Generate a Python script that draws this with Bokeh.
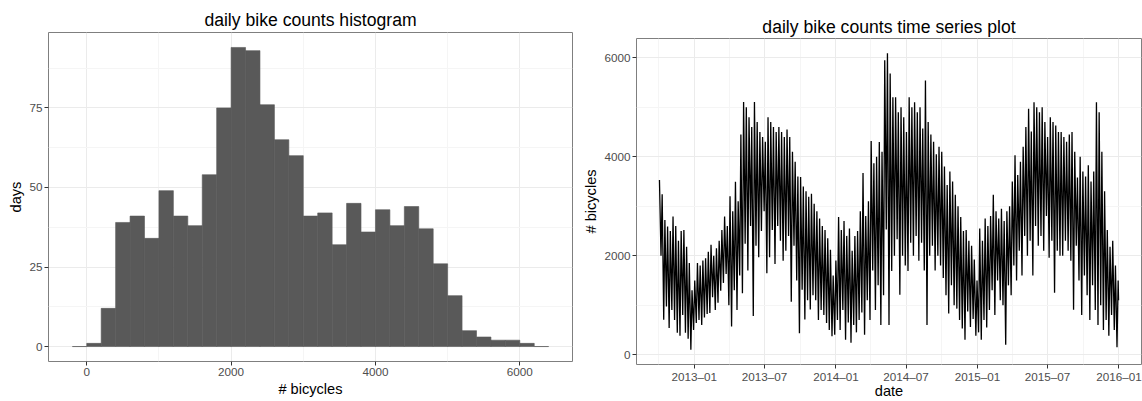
import pandas as pd
from bokeh.plotting import figure
from bokeh.layouts import row
from bokeh.models import FixedTicker, DatetimeTickFormatter, Range1d
from bokeh.embed import file_html
from bokeh.resources import INLINE

# ---- histogram: number of days per 200-bicycle bin ----
bin_width = 200
bin_lefts = list(range(-200, 6400, bin_width))
day_counts = [0, 1, 12, 39, 41, 34, 49, 41, 38, 54,
              75, 94, 93, 76, 65, 60, 41, 42, 32, 45,
              36, 43, 38, 44, 37, 26, 16, 5, 3, 2,
              2, 1, 0]
hist_x_ticks = [0, 2000, 4000, 6000]
hist_y_ticks = [0, 25, 50, 75]

# ---- daily counts: weekday peak (Wednesday) and weekend low (Sunday) per week ----
week_start = "2012-10-03"
series_end = "2015-12-31"

peaks_2012 = [3530, 3240, 2720, 2590, 2500, 2790, 2600, 2300, 2500, 2520, 2180, 1850, 1300]
lows_2012 = [2000, 705, 975, 540, 900, 700, 440, 380, 800, 440, 320, 100, 500]

peaks_2013 = [1500, 1850, 1800, 1900, 1950,
              2080, 2220, 2000, 2150,
              2300, 2520, 2790, 2600,
              3200, 2900, 3495, 3100,
              4450, 5107, 5000, 4800, 4600,
              5107, 4700, 4500, 4400,
              4300, 4800, 4700, 4600, 4500,
              4600, 4500, 4400, 4550,
              4400, 4100, 3900, 3600,
              3590, 3400, 3300, 3190, 3250,
              3050, 2900, 2750, 2600,
              2520, 2350, 2120, 1600]
lows_2013 = [640, 700, 600, 750, 820,
             840, 1160, 900, 1050,
             1290, 1450, 1630, 1000,
             570, 1300, 900, 1600,
             1240, 2240, 1700, 2600, 780,
             2200, 1970, 2500, 2900,
             1645, 1970, 2520, 1830, 2600,
             2300, 1900, 2100, 2400,
             1070, 2200, 1500, 430,
             1310, 710, 1100, 910, 1200,
             1100, 700, 900, 800,
             640, 500, 370, 400]

peaks_2014 = [1900, 2780, 2520, 2700, 2400,
              2550, 2100, 2400, 2500,
              2900, 3670, 2800, 3100,
              4320, 3870, 4000, 4300, 4100,
              5950, 6090, 5680, 5200,
              5200, 4900, 5000, 4800,
              4500, 5200, 5000, 5100, 4900,
              5000, 4570, 5540, 4700,
              4450, 4300, 4050, 4200,
              4100, 3800, 3430, 3700, 3500,
              3230, 3000, 2780, 2500,
              2520, 2300, 2200, 1920, 1500]
lows_2014 = [700, 500, 900, 300, 650,
             240, 600, 450, 700,
             850, 400, 1100, 700,
             1700, 900, 1400, 600, 1200,
             2530, 600, 1690, 2000,
             2330, 1210, 2000, 1800,
             1690, 2260, 2000, 2400, 1900,
             2260, 1700, 600, 2000,
             2200, 1700, 2000, 1800,
             1550, 1200, 830, 1400, 1000,
             930, 700, 530, 300,
             870, 560, 720, 380, 450]

peaks_2015 = [2550, 2300, 2750, 2600,
              2800, 3230, 2900, 2750,
              2950, 2700, 2900, 3000,
              3500, 4030, 3630, 3900, 4200,
              4600, 4970, 4510, 5100,
              5000, 4900, 5000, 4700,
              4400, 4800, 4700, 4630, 4500,
              4500, 4400, 4300, 4450,
              4500, 4100, 3580, 4000, 3700,
              3600, 3830, 3500, 3700,
              5100, 4900, 4100, 3300,
              2520, 2180, 2300, 1800, 1500]
lows_2015 = [300, 700, 550, 900,
             1300, 800, 1500, 1100,
             1000, 200, 1400, 1200,
             1800, 1500, 2100, 1600, 2400,
             2000, 2300, 1600, 2600,
             2200, 2400, 2100, 2800,
             1960, 2300, 1250, 2100, 2000,
             2000, 2300, 2100, 1900,
             907, 2200, 1500, 800, 1600,
             1200, 700, 1400, 900,
             600, 1000, 500, 700,
             380, 800, 500, 150, 1100]

date_x_ticks = ["2013-01-01", "2013-07-01", "2014-01-01", "2014-07-01",
                "2015-01-01", "2015-07-01", "2016-01-01"]
date_x_minor = ["2012-10-01", "2013-04-01", "2013-10-01", "2014-04-01",
                "2014-10-01", "2015-04-01", "2015-10-01"]
count_y_ticks = [0, 2000, 4000, 6000]

FONT = "Liberation Sans"


def style_axis(ax, label, label_standoff=2, title_standoff=2):
    ax.axis_label = label
    ax.axis_line_color = None
    ax.major_tick_line_color = "#333333"
    ax.major_tick_line_width = 1
    ax.major_tick_out = 4
    ax.major_tick_in = 0
    ax.minor_tick_line_color = None
    ax.major_label_text_font = FONT
    ax.major_label_text_font_size = "11.7px"
    ax.major_label_text_color = "#4D4D4D"
    ax.major_label_text_line_height = 1.0
    ax.major_label_standoff = label_standoff
    ax.axis_label_text_font = FONT
    ax.axis_label_text_font_size = "14.6px"
    ax.axis_label_text_font_style = "normal"
    ax.axis_label_text_color = "black"
    ax.axis_label_text_line_height = 1.0
    ax.axis_label_standoff = title_standoff


def style_grid(grid, ticker):
    grid.ticker = ticker
    grid.grid_line_color = "#EBEBEB"
    grid.grid_line_width = 1
    grid.minor_grid_line_color = "#F5F5F5"
    grid.minor_grid_line_width = 1


def style_title(p, text, standoff):
    p.title.text = text
    p.title.align = "center"
    p.title.text_font = FONT
    p.title.text_font_size = "17.6px"
    p.title.text_font_style = "normal"
    p.title.text_color = "black"
    p.title.text_line_height = 1.0
    p.title.standoff = standoff


def padded(lo, hi, frac=0.05):
    pad = (hi - lo) * frac
    return lo - pad, hi + pad


# ---------------- left: histogram ----------------
bin_rights = [b + bin_width for b in bin_lefts]
hx0, hx1 = padded(bin_lefts[0], bin_rights[-1])
hy0, hy1 = padded(0, max(day_counts))

p1 = figure(width=580, height=401, output_backend="svg", toolbar_location=None,
            x_range=Range1d(hx0, hx1), y_range=Range1d(hy0, hy1),
            min_border_left=48, min_border_right=8,
            min_border_top=32, min_border_bottom=40, frame_align=False)
p1.quad(left=bin_lefts, right=bin_rights, bottom=0, top=day_counts,
        fill_color="#595959", line_color="#595959", line_width=0.6)

hx_ticker = FixedTicker(ticks=hist_x_ticks, minor_ticks=[1000, 3000, 5000])
hy_ticker = FixedTicker(ticks=hist_y_ticks, minor_ticks=[12.5, 37.5, 62.5, 87.5])
p1.xaxis.ticker = hx_ticker
p1.yaxis.ticker = hy_ticker
style_axis(p1.xaxis[0], "# bicycles")
style_axis(p1.yaxis[0], "days")
style_grid(p1.xgrid[0], hx_ticker)
style_grid(p1.ygrid[0], hy_ticker)
style_title(p1, "daily bike counts histogram", 6)
p1.outline_line_color = "#7F7F7F"
p1.outline_line_width = 1

# ---------------- right: time series ----------------
peaks = peaks_2012 + peaks_2013 + peaks_2014 + peaks_2015
lows = lows_2012 + lows_2013 + lows_2014 + lows_2015
peak_dates = pd.date_range(week_start, periods=len(peaks), freq="7D")
end = pd.Timestamp(series_end)
low_dates = [min(d + pd.Timedelta(days=4), end) for d in peak_dates]

ts_x, ts_y = [], []
for d_hi, v_hi, d_lo, v_lo in zip(peak_dates, peaks, low_dates, lows):
    ts_x += [d_hi, d_lo]
    ts_y += [v_hi, v_lo]


def ms(d):
    return pd.Timestamp(d).value / 1e6


tx0, tx1 = padded(ms(week_start), ms(series_end))
ty0, ty1 = padded(min(ts_y), max(ts_y))

p2 = figure(width=562, height=401, output_backend="svg", toolbar_location=None,
            x_axis_type="datetime",
            x_range=Range1d(tx0, tx1), y_range=Range1d(ty0, ty1),
            min_border_left=56, min_border_right=1,
            min_border_top=38, min_border_bottom=37, frame_align=False)
p2.line(ts_x, ts_y, line_color="black", line_width=1.3)

dx_ticker = FixedTicker(ticks=[ms(d) for d in date_x_ticks],
                        minor_ticks=[ms(d) for d in date_x_minor])
cy_ticker = FixedTicker(ticks=count_y_ticks, minor_ticks=[1000, 3000, 5000])
p2.xaxis.ticker = dx_ticker
p2.yaxis.ticker = cy_ticker
fmt = "%Y\u2013%m"
p2.xaxis.formatter = DatetimeTickFormatter(years=fmt, months=fmt, days=fmt,
                                           hours=fmt, minutes=fmt)
style_axis(p2.xaxis[0], "date", label_standoff=1, title_standoff=-3)
style_axis(p2.yaxis[0], "# bicycles")
style_grid(p2.xgrid[0], dx_ticker)
style_grid(p2.ygrid[0], cy_ticker)
style_title(p2, "daily bike counts time series plot", 4)
p2.outline_line_color = "#7F7F7F"
p2.outline_line_width = 1

layout = row(p1, p2)
open("out.html", "w").write(file_html(layout, INLINE))
